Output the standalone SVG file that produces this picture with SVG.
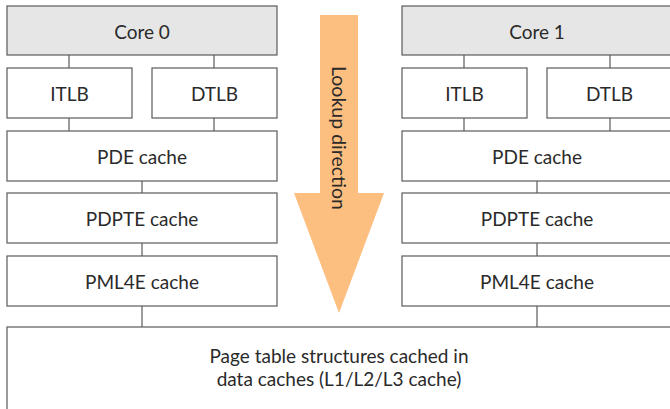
<svg xmlns="http://www.w3.org/2000/svg" width="670" height="409" viewBox="0 0 670 409">
  <style>
    .box { fill: #ffffff; stroke: #5a5a5a; stroke-width: 1.2; }
    .core { fill: #e6e6e6; stroke: #5a5a5a; stroke-width: 1.2; }
    .lbl { font-family: Lato, "Open Sans", sans-serif; font-size: 19px; fill: #2a2a2a; text-anchor: middle; dominant-baseline: central; }
    .wire { stroke: #5a5a5a; stroke-width: 1.2; fill: none; }
  </style>
  <rect width="670" height="409" fill="#ffffff"/>

  <!-- lookup direction arrow -->
  <g id="lookup-arrow">
    <polygon points="320,15 358,15 358,193 384,193 339,313 294,193 320,193" fill="#fdbf80"/>
    <text class="lbl" style="font-size:19.5px" transform="translate(339,138) rotate(90)">Lookup direction</text>
  </g>

  <!-- connectors -->
  <g id="connectors">
    <line class="wire" x1="69" y1="55" x2="69" y2="68"/>
    <line class="wire" x1="214" y1="55" x2="214" y2="68"/>
    <line class="wire" x1="69" y1="118" x2="69" y2="131"/>
    <line class="wire" x1="214" y1="118" x2="214" y2="131"/>
    <line class="wire" x1="142" y1="181" x2="142" y2="193"/>
    <line class="wire" x1="142" y1="243" x2="142" y2="256"/>
    <line class="wire" x1="142" y1="306" x2="142" y2="327"/>
    <line class="wire" x1="464" y1="55" x2="464" y2="68"/>
    <line class="wire" x1="610" y1="55" x2="610" y2="68"/>
    <line class="wire" x1="464" y1="118" x2="464" y2="131"/>
    <line class="wire" x1="610" y1="118" x2="610" y2="131"/>
    <line class="wire" x1="537" y1="181" x2="537" y2="193"/>
    <line class="wire" x1="537" y1="243" x2="537" y2="256"/>
    <line class="wire" x1="537" y1="306" x2="537" y2="327"/>
  </g>

  <!-- core 0 column -->
  <g id="core0"><rect class="core" x="7" y="6" width="270" height="49"/><text class="lbl" x="142" y="31">Core 0</text></g>
  <g id="itlb0"><rect class="box" x="7" y="68" width="125" height="50"/><text class="lbl" x="69.5" y="93">ITLB</text></g>
  <g id="dtlb0"><rect class="box" x="152" y="68" width="125" height="50"/><text class="lbl" x="214.5" y="93">DTLB</text></g>
  <g id="pde0"><rect class="box" x="7" y="131" width="270" height="50"/><text class="lbl" x="142" y="156">PDE cache</text></g>
  <g id="pdpte0"><rect class="box" x="7" y="193" width="270" height="50"/><text class="lbl" x="142" y="218">PDPTE cache</text></g>
  <g id="pml4e0"><rect class="box" x="7" y="256" width="270" height="50"/><text class="lbl" x="142" y="281">PML4E cache</text></g>

  <!-- core 1 column -->
  <g id="core1"><rect class="core" x="402" y="6" width="270" height="49"/><text class="lbl" x="537" y="31">Core 1</text></g>
  <g id="itlb1"><rect class="box" x="402" y="68" width="125" height="50"/><text class="lbl" x="464.5" y="93">ITLB</text></g>
  <g id="dtlb1"><rect class="box" x="547" y="68" width="125" height="50"/><text class="lbl" x="609.5" y="93">DTLB</text></g>
  <g id="pde1"><rect class="box" x="402" y="131" width="270" height="50"/><text class="lbl" x="537" y="156">PDE cache</text></g>
  <g id="pdpte1"><rect class="box" x="402" y="193" width="270" height="50"/><text class="lbl" x="537" y="218">PDPTE cache</text></g>
  <g id="pml4e1"><rect class="box" x="402" y="256" width="270" height="50"/><text class="lbl" x="537" y="281">PML4E cache</text></g>

  <!-- shared data caches -->
  <g id="data-caches">
    <rect class="box" x="7" y="327" width="670" height="90"/>
    <text class="lbl" x="339" y="355">Page table structures cached in</text>
    <text class="lbl" x="339" y="378">data caches (L1/L2/L3 cache)</text>
  </g>
</svg>
